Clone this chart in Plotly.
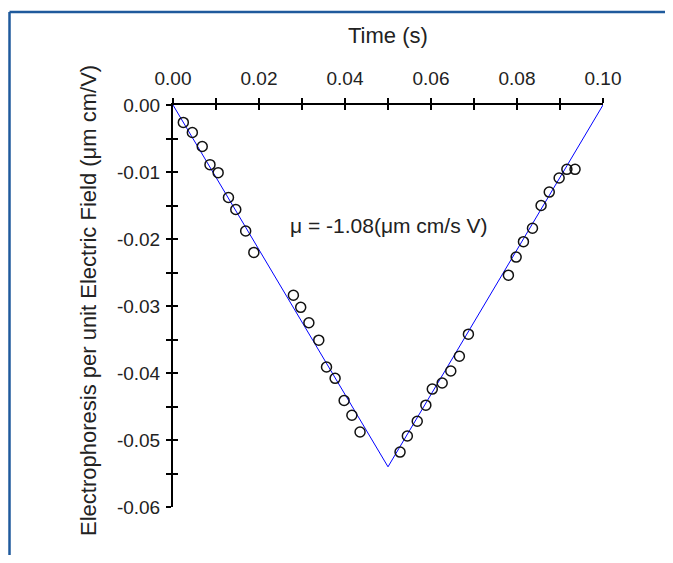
import plotly.graph_objects as go

# ---- data ----
time_s = [0.0024, 0.0045, 0.0068, 0.0086, 0.0105, 0.0129, 0.0146, 0.0169, 0.0188,
          0.0280, 0.0297, 0.0316, 0.0339, 0.0357, 0.0377, 0.0398, 0.0416, 0.0435,
          0.0528, 0.0545, 0.0568, 0.0588, 0.0603, 0.0626, 0.0646, 0.0666, 0.0687,
          0.0780, 0.0798, 0.0815, 0.0836, 0.0856, 0.0875, 0.0898, 0.0916, 0.0935]
electro = [-0.0026, -0.0041, -0.0062, -0.0089, -0.0101, -0.0138, -0.0156, -0.0188, -0.0220,
           -0.0284, -0.0302, -0.0325, -0.0351, -0.0391, -0.0408, -0.0441, -0.0463, -0.0488,
           -0.0518, -0.0494, -0.0472, -0.0448, -0.0424, -0.0415, -0.0397, -0.0375, -0.0342,
           -0.0254, -0.0227, -0.0204, -0.0184, -0.0150, -0.0130, -0.0109, -0.0096, -0.0096]
fit_time = [0.0, 0.05, 0.10]
fit_electro = [0.0, -0.054, 0.0]

x_tickvals = [0.00, 0.01, 0.02, 0.03, 0.04, 0.05, 0.06, 0.07, 0.08, 0.09, 0.10]
x_ticktext = ["0.00", "", "0.02", "", "0.04", "", "0.06", "", "0.08", "", "0.10"]
y_tickvals = [0.0, -0.005, -0.01, -0.015, -0.02, -0.025, -0.03, -0.035, -0.04,
              -0.045, -0.05, -0.055, -0.06]
y_ticktext = ["0.00", "", "-0.01", "", "-0.02", "", "-0.03", "", "-0.04",
              "", "-0.05", "", "-0.06"]

x_title = "Time (s)"
y_title = "Electrophoresis per unit Electric Field (\u03bcm cm/V)"
note = "\u03bc = -1.08(\u03bcm cm/s V)"

FONT = "Liberation Sans, Arial, sans-serif"
OFF = 8  # page body margin
W, H = 673 - OFF, 563 - 2 * OFF
ML, MT = 173 - OFF, 105 - OFF
MR = W - (603 - OFF)
MB = H - (507 - OFF)

fig = go.Figure()
fig.add_trace(go.Scatter(x=fit_time, y=fit_electro, mode="lines",
                         line=dict(color="#0000ff", width=1), showlegend=False,
                         hoverinfo="skip"))
fig.add_trace(go.Scatter(x=time_s, y=electro, mode="markers",
                         marker=dict(symbol="circle-open", size=10,
                                     color="#111111", line=dict(width=1.5)),
                         showlegend=False))
fig.add_trace(go.Scatter(x=[None], y=[None], xaxis="x2", yaxis="y2",
                         showlegend=False, hoverinfo="skip"))

axis_common = dict(showgrid=False, zeroline=False, linecolor="black",
                   tickcolor="black", tickwidth=1.5, ticklen=5,
                   tickfont=dict(family=FONT, size=19, color="#222222"))

fig.update_layout(
    width=W, height=H,
    margin=dict(l=ML, r=MR, t=MT, b=MB, pad=0),
    paper_bgcolor="white", plot_bgcolor="white",
    font=dict(family=FONT, size=19, color="#222222"),
    xaxis=dict(range=[0, 0.10], side="top", showline=True, linewidth=2,
               tickmode="array", tickvals=x_tickvals, ticktext=x_ticktext,
               ticks="outside", ticklabelstandoff=5, **axis_common),
    yaxis=dict(range=[-0.06, 0], showline=True, linewidth=2,
               tickmode="array", tickvals=y_tickvals, ticktext=y_ticktext,
               ticks="outside", ticklabelstandoff=2, **axis_common),
    xaxis2=dict(range=[0, 0.10], overlaying="x", side="top", showline=False,
                tickmode="array", tickvals=x_tickvals, showticklabels=False,
                ticks="inside", **axis_common),
    yaxis2=dict(range=[-0.06, 0], overlaying="y", side="left", showline=False,
                tickmode="array", tickvals=y_tickvals, showticklabels=False,
                ticks="inside", **axis_common),
)

pw = W - ML - MR
ph = H - MT - MB

def px_x(p):
    return (p - OFF - ML) / pw

def px_y(p):
    return (H - MB - (p - OFF)) / ph

fig.add_annotation(text=x_title, xref="paper", yref="paper", x=px_x(388), y=px_y(35),
                   showarrow=False, xanchor="center", yanchor="middle",
                   font=dict(family=FONT, size=22, color="#222222"))
fig.add_annotation(text=y_title, xref="paper", yref="paper", x=px_x(88), y=px_y(301),
                   textangle=-90, showarrow=False, xanchor="center", yanchor="middle",
                   font=dict(family=FONT, size=22, color="#222222"))
fig.add_annotation(text=note, xref="x", yref="y", x=0.05, y=-0.018,
                   showarrow=False, xanchor="center", yanchor="middle",
                   font=dict(family=FONT, size=21, color="#222222"))

# frame lines (blue border at top and left)
fig.add_shape(type="line", xref="paper", yref="paper",
              x0=px_x(9.5), x1=px_x(690), y0=px_y(12), y1=px_y(12),
              line=dict(color="#1f5a9c", width=2.5))
fig.add_shape(type="line", xref="paper", yref="paper",
              x0=px_x(9.5), x1=px_x(9.5), y0=px_y(12), y1=px_y(570),
              line=dict(color="#1f5a9c", width=2.5))

fig.write_html("out.html")
